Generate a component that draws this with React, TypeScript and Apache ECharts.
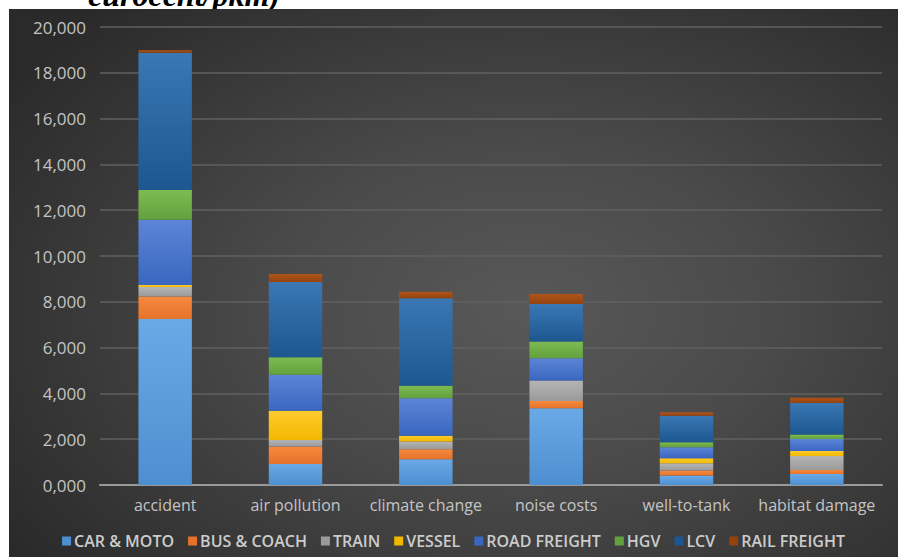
import React, { useEffect, useRef } from "react";
import * as echarts from "echarts";

const categories = ["accident", "air pollution", "climate change", "noise costs", "well-to-tank", "habitat damage"];
const seriesNames = ["CAR & MOTO", "BUS & COACH", "TRAIN", "VESSEL", "ROAD FREIGHT", "HGV", "LCV", "RAIL FREIGHT"];
const carMoto = [7250, 920, 1120, 3350, 410, 480];
const busCoach = [980, 760, 440, 320, 220, 175];
const train = [420, 290, 335, 890, 320, 610];
const vessel = [80, 1270, 260, 0, 220, 220];
const roadFreight = [2850, 1570, 1630, 980, 480, 520];
const hgv = [1300, 770, 550, 730, 220, 200];
const lcv = [6000, 3280, 3820, 1630, 1150, 1380];
const railFreight = [110, 350, 280, 440, 160, 230];
const seriesValues = [carMoto, busCoach, train, vessel, roadFreight, hgv, lcv, railFreight];

const colorsTop = ["#69a9e6", "#f58a3d", "#b5b5b5", "#ffcb2e", "#5c85d6", "#7cbb52", "#3a77b3", "#b0541a"];
const colorsBottom = ["#4d8fd1", "#e6722a", "#9a9a9a", "#f2b800", "#3a66c0", "#64a03e", "#1d5790", "#94430f"];

export default function App() {
  const ref = useRef<HTMLDivElement>(null);
  useEffect(() => {
    if (!ref.current) return;
    const chart = echarts.init(ref.current, undefined, { renderer: "svg" });
    const font = "'Open Sans', sans-serif";
    chart.setOption({
      animation: false,
      backgroundColor: "transparent",
      grid: { left: 91, right: 16, top: 18, bottom: 72, containLabel: false },
      legend: {
        data: seriesNames.map((n, i) => ({ name: n, itemStyle: { color: colorsBottom[i] } })),
        top: 519,
        left: "center",
        itemWidth: 9,
        itemHeight: 9,
        itemGap: 14,
        icon: "rect",
        textStyle: { color: "#cccccc", fontSize: 16, fontWeight: 600, fontFamily: font, padding: [0, 0, 0, -2] },
      },
      xAxis: {
        type: "category",
        data: categories,
        axisLine: { lineStyle: { color: "#9a9a9a", width: 2 } },
        axisTick: { show: false },
        axisLabel: { color: "#c4c4c4", fontSize: 16, fontFamily: font, margin: 12, interval: 0 },
      },
      yAxis: {
        type: "value",
        min: 0,
        max: 20000,
        interval: 2000,
        axisLine: { show: false },
        axisTick: { show: false },
        splitLine: { lineStyle: { color: "#606060", width: 1.5 } },
        axisLabel: {
          color: "#c4c4c4",
          fontSize: 17,
          fontFamily: font,
          margin: 14,
          formatter: (v: number) => (v === 0 ? "0,000" : v.toLocaleString("en-US")),
        },
      },
      series: seriesNames.map((name, i) => ({
        name,
        type: "bar",
        stack: "total",
        barWidth: "41%",
        data: seriesValues[i],
        itemStyle: {
          color: new echarts.graphic.LinearGradient(0, 0, 0, 1, [
            { offset: 0, color: colorsTop[i] },
            { offset: 1, color: colorsBottom[i] },
          ]),
        },
      })),
    });
    return () => chart.dispose();
  }, []);

  return (
    <div style={{ position: "absolute", left: 0, top: 0, width: 898, height: 557, background: "#ffffff", overflow: "hidden" }}>
      <div style={{ position: "absolute", left: 0, top: 0, width: 898, height: 9, overflow: "hidden" }}>
        <span
          style={{
            position: "absolute",
            left: 88,
            top: -21,
            fontFamily: "'Liberation Serif', 'Times New Roman', serif",
            fontWeight: "bold",
            fontStyle: "italic",
            fontSize: 32,
            lineHeight: "32px",
            color: "#000",
            whiteSpace: "nowrap",
          }}
        >
          eurocent/pkm)
        </span>
      </div>
      <div
        ref={ref}
        style={{
          position: "absolute",
          left: 9,
          top: 9,
          width: 889,
          height: 548,
          background: "radial-gradient(ellipse 70% 75% at 58% 55%, #585858 0%, #4a4a4a 40%, #2a2a2a 100%)",
        }}
      />
    </div>
  );
}
